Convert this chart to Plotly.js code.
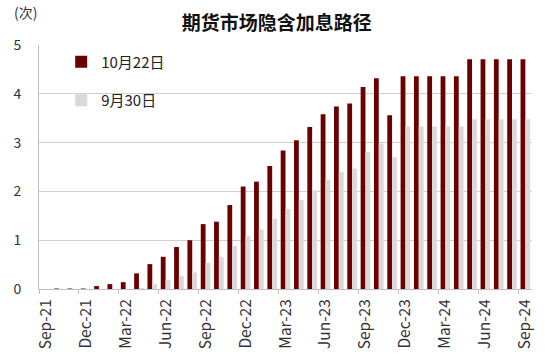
<!DOCTYPE html>
<html>
<head>
<meta charset="utf-8">
<script src="https://cdn.plot.ly/plotly-3.0.1.min.js"></script>
<style>html,body{margin:0;padding:0;background:#fff;}#chart{width:545px;height:364px;}</style>
</head>
<body>
<div id="chart"></div>
<script>
const months = ["Sep-21","Oct-21","Nov-21","Dec-21","Jan-22","Feb-22","Mar-22","Apr-22","May-22","Jun-22","Jul-22","Aug-22",
  "Sep-22","Oct-22","Nov-22","Dec-22","Jan-23","Feb-23","Mar-23","Apr-23","May-23","Jun-23","Jul-23","Aug-23",
  "Sep-23","Oct-23","Nov-23","Dec-23","Jan-24","Feb-24","Mar-24","Apr-24","May-24","Jun-24","Jul-24","Aug-24","Sep-24"];
const oct22 = [0,0.01,0.01,0.01,0.06,0.10,0.14,0.32,0.51,0.66,0.86,1.00,
  1.33,1.38,1.72,2.10,2.20,2.52,2.84,3.05,3.32,3.58,3.74,3.80,
  4.14,4.32,3.56,4.36,4.36,4.36,4.36,4.36,4.71,4.71,4.71,4.71,4.71];
const sep30 = [0,0,0,0,0,0,0,0.02,0.10,0.18,0.27,0.34,
  0.54,0.66,0.88,1.08,1.22,1.44,1.64,1.82,2.02,2.24,2.40,2.47,
  2.81,2.98,2.70,3.33,3.33,3.33,3.33,3.33,3.48,3.48,3.48,3.48,3.48];
const seriesNames = ["10月22日","9月30日"];
const tickStep = 3;
const labelVals = months.filter((m,i)=>i%tickStep===0);
const boundaryTicks = months.map((m,i)=>i-0.5).filter((v,i)=>i%tickStep===0);

const font = "Noto Sans CJK SC, Noto Sans, sans-serif";
const traces = [
  {type:"bar", x:months, y:oct22, name:seriesNames[0], marker:{color:"#6B0000"}, legendgroup:"a", hoverinfo:"none"},
  {type:"bar", x:months, y:sep30, name:seriesNames[1], marker:{color:"#D9D9D9"}, legendgroup:"b", hoverinfo:"none"},
  {type:"scatter", x:[boundaryTicks[0]], y:[0], xaxis:"x2", mode:"markers", marker:{opacity:0}, showlegend:false, hoverinfo:"none"}
];
const layout = {
  width:545, height:364,
  margin:{l:39, r:13, t:45, b:75},
  paper_bgcolor:"#fff", plot_bgcolor:"#fff",
  font:{family:font, size:14, color:"#333"},
  title:{text:"<b>期货市场隐含加息路径</b>", font:{family:font, size:19, color:"#111"}, x:0.508, xanchor:"center", y:0.937, yanchor:"middle"},
  barmode:"group", bargap:0.28, bargroupgap:0,
  showlegend:true,
  legend:{x:0.045, y:0.998, xanchor:"left", yanchor:"top", bgcolor:"rgba(0,0,0,0)", font:{family:font, size:15, color:"#222"}, tracegroupgap:16, traceorder:"grouped", itemwidth:30},
  xaxis:{type:"category", range:[-0.5, months.length-0.5], tickvals:labelVals, ticktext:labelVals, tickangle:-90,
    ticks:"", ticklabelstandoff:3, showgrid:false, showline:true, linecolor:"#BFBFBF", linewidth:1, zeroline:false,
    tickfont:{family:font, size:15.5, color:"#333"}, fixedrange:true},
  xaxis2:{overlaying:"x", anchor:"y", range:[-0.5, months.length-0.5], tickvals:boundaryTicks, showticklabels:false,
    ticks:"outside", ticklen:4, tickcolor:"#BFBFBF", showgrid:false, showline:false, zeroline:false},
  yaxis:{range:[0,5], dtick:1, showgrid:true, gridcolor:"#D0D0D0", gridwidth:1, showline:true, linecolor:"#BFBFBF",
    zeroline:false, ticks:"", ticklabelstandoff:14, tickfont:{family:font, size:14, color:"#333"}},
  annotations:[{text:"(次)", xref:"paper", yref:"paper", x:-0.055, y:1.135, xanchor:"left", yanchor:"middle", showarrow:false,
    font:{family:font, size:14, color:"#333"}}]
};
Plotly.newPlot("chart", traces, layout, {staticPlot:true, displayModeBar:false});
</script>
</body>
</html>
